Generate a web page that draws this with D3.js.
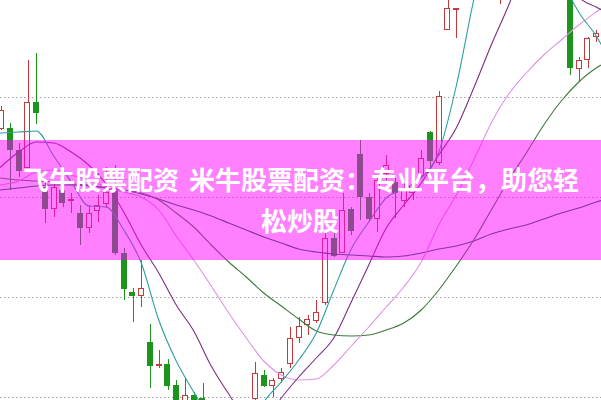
<!DOCTYPE html>
<html><head><meta charset="utf-8">
<script src="https://cdn.jsdelivr.net/npm/d3@7"></script>
<style>html,body{margin:0;padding:0;background:#fff;overflow:hidden}svg{display:block}</style>
</head><body>
<script>
// ---- data (prices) ----
const opens  = [12.69,12.69,12.47,12.30,12.95,12.10,11.89,12.07,11.97,11.84,11.70,11.87,11.94,12.07,11.44,11.05,11.02,10.55,10.32,10.33,10.12,9.92,10.02,9.99,9.85,9.77,9.65,9.72,9.61,9.99,10.22,10.12,10.19,10.34,10.60,10.73,10.77,10.95,11.59,11.45,11.88,12.43,12.00,11.79,12.24,12.15,11.97,12.05,12.22,12.65,12.35,13.68,13.89,14.07,14.37,14.57,14.42,14.17,14.57,14.87,15.17,14.97,15.27,15.07,14.87,14.57,13.29,13.38,13.61];
const closes = [12.87,12.48,12.27,12.95,12.85,11.89,12.10,11.95,11.98,11.70,11.84,11.92,12.05,11.45,11.09,11.02,11.09,10.32,10.33,10.12,9.95,10.02,9.92,9.87,9.77,9.67,9.73,9.59,9.77,10.24,10.12,10.17,10.25,10.59,10.71,10.78,10.85,11.59,11.42,11.87,11.67,12.01,11.79,12.17,12.32,12.05,12.07,12.12,12.39,12.37,13.01,13.89,13.895,14.37,14.57,14.42,14.67,14.47,14.87,15.17,14.97,15.27,15.07,14.87,14.57,13.30,13.37,13.59,13.64];
const highs  = [12.91,12.74,12.54,13.37,13.44,12.15,12.14,12.12,12.04,11.92,11.92,12.02,12.30,12.32,11.49,11.09,11.37,10.73,10.47,10.38,10.17,10.19,10.05,10.14,9.93,9.83,9.79,9.82,9.87,10.35,10.27,10.19,10.29,10.70,10.80,10.82,10.97,11.64,11.64,12.04,11.90,12.57,12.04,12.22,12.42,12.22,12.15,12.19,12.47,12.66,13.06,14.02,13.895,14.47,14.77,14.87,14.97,14.57,15.07,15.27,15.37,15.47,15.57,15.27,14.97,14.67,13.40,13.60,13.67];
const lows   = [12.67,12.07,12.20,12.29,12.73,11.74,11.80,11.90,11.84,11.52,11.64,11.75,11.89,11.42,10.97,10.75,10.90,10.09,10.29,10.07,9.92,9.89,9.87,9.82,9.69,9.57,9.52,9.47,9.52,9.95,10.10,10.00,10.14,10.29,10.54,10.62,10.74,10.92,11.40,11.44,11.62,11.77,11.75,11.65,12.17,11.79,11.90,11.97,12.19,12.30,12.32,13.67,13.59,14.02,14.27,14.17,14.12,13.93,14.37,14.67,14.77,14.87,14.92,14.57,14.37,13.22,13.15,13.29,13.55];

// moving-average lines, sampled at these candle positions
const maIdx = [-0.2,2,4,6,8,10,12,14,16,18,20,22,24,26,28,30,32,34,36,38,40,42,44,46,48,50,52,54,56,58,60,62,64,66,68,68.8];
const ma5  = [12.64,12.65,12.66,12.41,12.15,11.91,11.90,11.67,11.34,10.77,10.36,10.05,9.77,9.57,9.62,9.95,10.15,10.37,10.64,11.07,11.48,11.75,11.99,12.08,12.19,12.45,13.11,13.97,14.67,15.07,15.17,14.97,14.22,13.85,13.61,13.49];
const ma10 = [12.29,12.45,12.55,12.54,12.45,12.32,12.13,11.85,11.52,11.24,10.92,10.66,10.31,10.03,9.79,9.75,9.99,10.20,10.39,10.59,10.95,11.32,11.69,11.92,12.14,12.42,12.69,13.09,13.52,13.92,14.37,14.57,14.42,14.00,13.90,13.86];
const ma20 = [12.12,12.16,12.25,12.27,12.22,12.17,12.10,12.05,12.00,11.87,11.61,11.37,11.11,10.84,10.59,10.36,10.22,10.17,10.18,10.32,10.51,10.70,10.90,11.10,11.35,11.72,12.02,12.37,12.74,13.03,13.24,13.42,13.57,13.72,13.85,13.90];
const ma30 = [12.19,12.17,12.16,12.15,12.13,12.12,12.09,12.07,12.04,11.97,11.84,11.70,11.52,11.35,11.20,11.04,10.91,10.78,10.66,10.62,10.61,10.62,10.67,10.74,10.87,11.07,11.31,11.57,11.87,12.17,12.44,12.72,12.96,13.15,13.29,13.33];
const ma60 = [12.07,12.09,12.11,12.12,12.12,12.11,12.09,12.07,12.03,11.98,11.92,11.87,11.81,11.74,11.67,11.60,11.54,11.48,11.45,11.43,11.42,11.41,11.40,11.41,11.44,11.48,11.51,11.56,11.63,11.68,11.72,11.78,11.84,11.89,11.95,11.97];

const gridPrices = [13, 12, 11, 10];
const bannerLine1 = "飞牛股票配资 米牛股票配资：专业平台，助您轻";
const bannerLine2 = "松炒股";

// ---- drawing ----
const W = 601, H = 400;
const svg = d3.select("body").append("svg").attr("width", W).attr("height", H);

const n = opens.length;
const xb = d3.scaleBand().domain(d3.range(n)).range([-3.125, 600.625]).paddingInner(0.3).paddingOuter(0.15);
const xc = d3.scaleLinear().domain([0, n - 1]).range([xb(0) + xb.bandwidth() / 2, xb(n - 1) + xb.bandwidth() / 2]);
const y = d3.scaleLinear().domain([9.97, 13.97]).range([H, 0]);

// grid
svg.append("g").selectAll("line").data(gridPrices).join("line")
  .attr("x1", 0).attr("x2", W)
  .attr("y1", d => Math.round(y(d)) + 0.5).attr("y2", d => Math.round(y(d)) + 0.5)
  .attr("stroke", "#a0a0a0").attr("stroke-width", 1).attr("stroke-dasharray", "1.5,2.5");

const RED = "#c8393b", GREEN = "#1c951c";
const candles = d3.range(n).map(i => ({i, o: opens[i], c: closes[i], h: highs[i], l: lows[i]}));
const cg = svg.append("g").attr("shape-rendering", "crispEdges");
cg.selectAll("line").data(candles).join("line")
  .attr("x1", d => Math.round(xc(d.i)) + 0.5).attr("x2", d => Math.round(xc(d.i)) + 0.5)
  .attr("y1", d => y(d.h)).attr("y2", d => y(d.l))
  .attr("stroke", d => d.c >= d.o ? RED : GREEN).attr("stroke-width", 1);
cg.selectAll("rect").data(candles).join("rect")
  .attr("x", d => Math.round(xb(d.i)) + 0.5)
  .attr("width", Math.round(xb.bandwidth()) - 1)
  .attr("y", d => Math.round(y(Math.max(d.o, d.c))) + 0.5)
  .attr("height", d => Math.max(1, Math.round(Math.abs(y(d.o) - y(d.c)))))
  .attr("fill", d => d.c >= d.o ? "#fff" : GREEN)
  .attr("stroke", d => d.c >= d.o ? RED : GREEN).attr("stroke-width", 1);

// moving averages
const maSeries = [
  {v: ma60, color: "#0a6450"},
  {v: ma30, color: "#3c7a3c"},
  {v: ma20, color: "#e291e2"},
  {v: ma10, color: "#7e2f7e"},
  {v: ma5,  color: "#2f9ea0"}
];
const line = d3.line().x(d => xc(d[0])).y(d => y(d[1])).curve(d3.curveMonotoneX);
svg.append("g").selectAll("path").data(maSeries).join("path")
  .attr("d", s => line(maIdx.map((k, j) => [k, s.v[j]])))
  .attr("fill", "none").attr("stroke", s => s.color).attr("stroke-width", 1.1);

// banner overlay
svg.append("rect").attr("x", 0).attr("y", 140).attr("width", W).attr("height", 120)
  .attr("fill", "rgb(255,0,255)").attr("fill-opacity", 0.5);
const tg = svg.append("g").attr("fill", "#fff")
  .attr("font-family", "'Noto Sans CJK SC', 'Noto Sans', sans-serif")
  .attr("font-weight", "bold").attr("font-size", 26).attr("text-anchor", "middle");
tg.append("text").attr("x", 301).attr("y", 190).attr("word-spacing", 4).text(bannerLine1);
tg.append("text").attr("x", 300).attr("y", 231).text(bannerLine2);
</script>
</body></html>
